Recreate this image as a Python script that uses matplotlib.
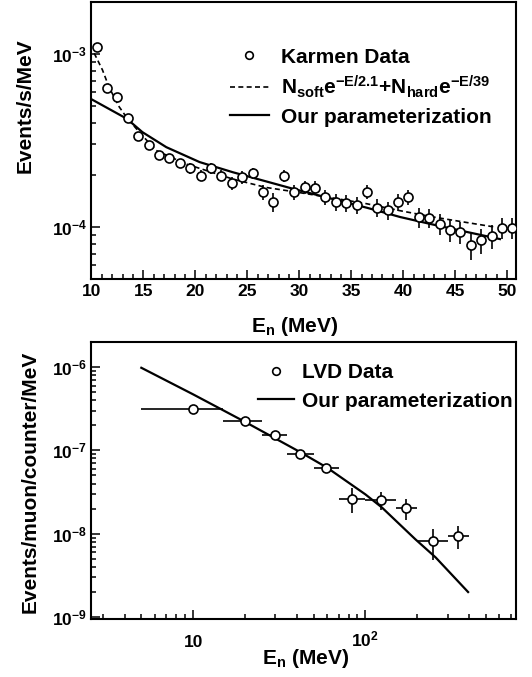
import matplotlib
matplotlib.use("Agg")
import matplotlib.pyplot as plt
from matplotlib.lines import Line2D
from matplotlib.ticker import (MultipleLocator, FixedLocator, LogLocator,
                               NullFormatter, FuncFormatter)

plt.rcParams['font.family'] = ['Liberation Sans', 'DejaVu Sans']
plt.rcParams['font.weight'] = 'bold'
plt.rcParams['axes.labelweight'] = 'bold'
plt.rcParams['mathtext.fontset'] = 'custom'
plt.rcParams['mathtext.rm'] = 'Liberation Sans:bold'
plt.rcParams['mathtext.it'] = 'Liberation Sans:bold'
plt.rcParams['mathtext.bf'] = 'Liberation Sans:bold'
plt.rcParams['mathtext.sf'] = 'Liberation Sans:bold'

# --- Karmen data (top panel) ---
karmen_e = [10.5, 11.5, 12.5, 13.5, 14.5, 15.5, 16.5, 17.5, 18.5, 19.5,
            20.5, 21.5, 22.5, 23.5, 24.5, 25.5, 26.5, 27.5, 28.5, 29.5,
            30.5, 31.5, 32.5, 33.5, 34.5, 35.5, 36.5, 37.5, 38.5, 39.5,
            40.5, 41.5, 42.5, 43.5, 44.5, 45.5, 46.5, 47.5, 48.5, 49.5, 50.5]
karmen_y = [1.10e-3, 6.32e-4, 5.65e-4, 4.28e-4, 3.35e-4, 2.96e-4, 2.59e-4,
            2.51e-4, 2.33e-4, 2.18e-4, 1.98e-4, 2.18e-4, 1.98e-4, 1.79e-4,
            1.94e-4, 2.04e-4, 1.59e-4, 1.39e-4, 1.98e-4, 1.59e-4, 1.69e-4,
            1.68e-4, 1.49e-4, 1.39e-4, 1.37e-4, 1.34e-4, 1.59e-4, 1.29e-4,
            1.25e-4, 1.39e-4, 1.48e-4, 1.14e-4, 1.13e-4, 1.04e-4, 9.55e-5,
            9.34e-5, 7.81e-5, 8.35e-5, 8.87e-5, 9.91e-5, 9.91e-5]
karmen_err = [3.0e-5, 2.0e-5, 2.0e-5, 1.5e-5, 1.3e-5, 1.3e-5, 1.2e-5,
              1.3e-5, 1.5e-5, 1.5e-5, 1.5e-5, 1.5e-5, 1.5e-5, 1.5e-5,
              1.6e-5, 1.6e-5, 1.6e-5, 1.7e-5, 1.6e-5, 1.6e-5, 1.5e-5,
              1.5e-5, 1.5e-5, 1.5e-5, 1.5e-5, 1.5e-5, 1.5e-5, 1.5e-5,
              1.5e-5, 1.5e-5, 1.5e-5, 1.5e-5, 1.4e-5, 1.4e-5, 1.4e-5,
              1.4e-5, 1.4e-5, 1.4e-5, 1.4e-5, 1.4e-5, 1.4e-5]

# double-exponential fit (dashed)
dash_e = [10.26, 11.06, 11.7, 12.67, 13.4, 14.6, 16.2, 19.1, 23.6, 26.8,
          29.4, 33.2, 36.5, 39.7, 42.9, 46.1, 48.7]
dash_y = [1.01e-3, 8.07e-4, 6.4e-4, 4.94e-4, 4.28e-4, 3.53e-4, 2.77e-4,
          2.31e-4, 1.89e-4, 1.69e-4, 1.60e-4, 1.47e-4, 1.36e-4, 1.24e-4,
          1.14e-4, 1.06e-4, 1.0e-4]

# our parameterization (solid)
par_e = [10.0, 13.4, 14.9, 17.2, 20.4, 23.6, 29.4, 33.2, 36.5, 39.7,
         42.9, 46.1, 49.3]
par_y = [5.47e-4, 4.22e-4, 3.53e-4, 2.89e-4, 2.37e-4, 2.07e-4, 1.66e-4,
         1.45e-4, 1.29e-4, 1.14e-4, 1.03e-4, 9.35e-5, 8.5e-5]

# --- LVD data (bottom panel) ---
lvd_e = [10, 20, 30, 42, 59, 84, 123, 173, 247, 345]
lvd_lo = [5, 15, 25, 35, 50, 70, 100, 150, 200, 300]
lvd_hi = [15, 25, 35, 50, 70, 100, 150, 200, 300, 400]
lvd_y = [3.15e-7, 2.25e-7, 1.53e-7, 9.1e-8, 6.1e-8, 2.64e-8, 2.55e-8,
         2.03e-8, 8.1e-9, 9.5e-9]
lvd_err = [1.0e-8, 1.0e-8, 8e-9, 7e-9, 6e-9, 8.7e-9, 6e-9, 5.7e-9,
           3.2e-9, 3.0e-9]

lvd_par_e = [5, 10, 20, 42, 60, 100, 125, 195, 256, 395]
lvd_par_y = [9.8e-7, 4.7e-7, 2.2e-7, 9.5e-8, 6.2e-8, 2.97e-8, 2.06e-8,
             8.6e-9, 5.2e-9, 2.0e-9]

fig = plt.figure(figsize=(5.32, 6.77), dpi=100)
ax1 = fig.add_axes([0.171, 0.588, 0.799, 0.4092])
ax2 = fig.add_axes([0.171, 0.0857, 0.799, 0.4092])

mk = dict(fmt='o', mfc='white', mec='black', ms=6.5, mew=1.2,
          ecolor='black', elinewidth=1.2, capsize=0, zorder=3)

# top panel
ax1.errorbar(karmen_e, karmen_y, yerr=karmen_err, **mk)
ax1.plot(dash_e, dash_y, color='black', ls='--', dashes=(3, 2), lw=1.2)
ax1.plot(par_e, par_y, color='black', lw=1.6)
ax1.set_yscale('log')
ax1.set_xlim(9.95, 50.85)
ax1.set_ylim(5e-5, 2e-3)
ax1.xaxis.set_major_locator(MultipleLocator(5))
ax1.xaxis.set_minor_locator(MultipleLocator(1))

# bottom panel
xlo = [e - l for e, l in zip(lvd_e, lvd_lo)]
xhi = [h - e for e, h in zip(lvd_e, lvd_hi)]
ax2.errorbar(lvd_e, lvd_y, xerr=[xlo, xhi], yerr=lvd_err, **mk)
ax2.plot(lvd_par_e, lvd_par_y, color='black', lw=1.6)
ax2.set_xscale('log')
ax2.set_yscale('log')
ax2.set_xlim(2.55, 750)
ax2.set_ylim(9.5e-10, 2e-6)
ax2.xaxis.set_major_locator(FixedLocator([10, 100]))
ax2.xaxis.set_minor_locator(LogLocator(subs=range(2, 10)))
ax2.xaxis.set_minor_formatter(NullFormatter())
ax2.xaxis.set_major_formatter(FuncFormatter(
    lambda v, p: '10' if v < 50 else r'$\mathdefault{10^{2}}$'))

for ax in (ax1, ax2):
    ax.yaxis.set_minor_locator(LogLocator(subs=range(2, 10)))
    ax.yaxis.set_minor_formatter(NullFormatter())
    for s in ax.spines.values():
        s.set_linewidth(1.5)
    ax.tick_params(which='both', direction='in', top=False, right=False,
                   width=1.1, labelsize=12.5)
    ax.tick_params(which='major', length=6.5, pad=3)
    ax.tick_params(which='minor', length=3.5)

ax1.tick_params(axis='x', pad=4)
ax2.tick_params(axis='x', which='major', pad=20)
plt.setp(ax2.get_xticklabels(), va='baseline')

# legends
h_data = Line2D([], [], ls='none', marker='o', mfc='white', mec='black',
                ms=5.5, mew=1.2)
h_dash = Line2D([], [], color='black', ls='--', dashes=(3, 2), lw=1.2)
h_par = Line2D([], [], color='black', lw=1.6)
ax1.legend([h_data, h_dash, h_par],
           ['Karmen Data',
            r'$\mathregular{N_{soft}e^{-E/2.1}{+}N_{hard}e^{-E/39}}$',
            'Our parameterization'],
           loc='upper left', bbox_to_anchor=(0.327, 0.835), frameon=False,
           prop={'size': 15, 'weight': 'bold'}, handlelength=1.85,
           handletextpad=0.6, labelspacing=0.35, borderpad=0,
           borderaxespad=0)
ax2.legend([h_data, h_par], ['LVD Data', 'Our parameterization'],
           loc='upper left', bbox_to_anchor=(0.393, 0.923), frameon=False,
           prop={'size': 15, 'weight': 'bold'}, handlelength=1.75,
           handletextpad=0.35, labelspacing=0.45, borderpad=0,
           borderaxespad=0)

# axis labels
ax1.set_ylabel('Events/s/MeV', fontsize=15, fontweight='bold', va='center')
ax1.yaxis.set_label_coords(-0.155, 0.626)
ax1.set_xlabel(r'E$_\mathregular{n}$ (MeV)', fontsize=15, fontweight='bold',
               va='center')
ax1.xaxis.set_label_coords(0.479, -0.170)
ax2.set_ylabel('Events/muon/counter/MeV', fontsize=15, fontweight='bold',
               va='center')
ax2.yaxis.set_label_coords(-0.1435, 0.496)
ax2.set_xlabel(r'E$_\mathregular{n}$ (MeV)', fontsize=15, fontweight='bold',
               va='center')
ax2.xaxis.set_label_coords(0.505, -0.141)

fig.savefig('out.png', dpi=100)
